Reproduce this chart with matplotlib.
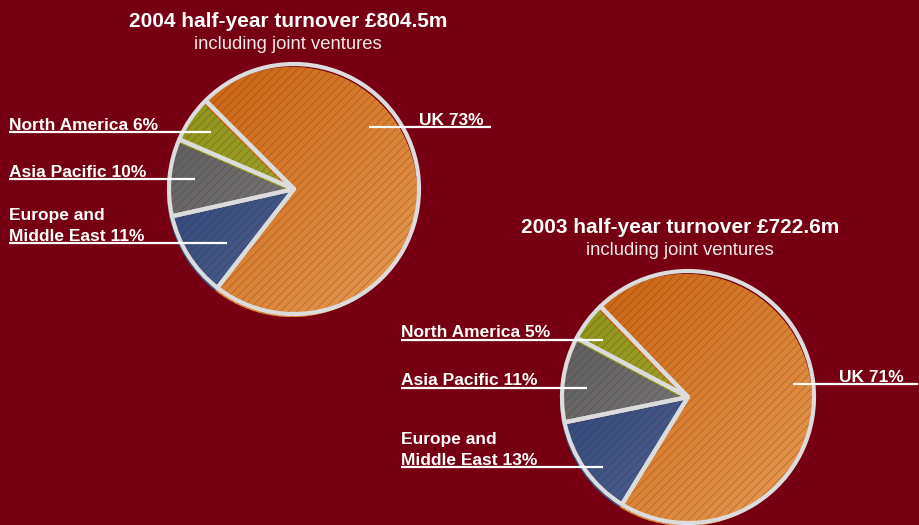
import numpy as np
import matplotlib
matplotlib.use("Agg")
import matplotlib.pyplot as plt
from matplotlib.colors import LinearSegmentedColormap

# ---- data -------------------------------------------------------------
regions = ["North America", "Asia Pacific", "Europe and\nMiddle East", "UK"]
share_2004 = [6, 10, 11, 73]
share_2003 = [5, 11, 13, 71]
years = [2004, 2003]
turnover_m = [804.5, 722.6]
subtitle = "including joint ventures"

# ---- styling ----------------------------------------------------------
BG = "#760011"
W, H = 920, 525
FONT = "Liberation Sans"
plt.rcParams["hatch.linewidth"] = 0.6
# (dark, light) gradient ends for each region's slice
shades = [("#8c9218", "#aeae3c"),
          ("#575757", "#909090"),
          ("#223a72", "#60739c"),
          ("#c85f0c", "#e89c55")]
OUTLINE = "#dcdcdc"

fig = plt.figure(figsize=(W / 100, H / 100), dpi=100, facecolor=BG)
ax = fig.add_axes([0, 0, 1, 1])
ax.set_facecolor(BG)


def sy(y_screen):
    """Convert a top-down pixel row into the axes' bottom-up y."""
    return H - y_screen


def draw_pie(shares, cx, cy_s, r, start):
    cy = sy(cy_s)
    fill_center = (cx - 2, cy - 3)
    base, _ = ax.pie(shares, radius=r, center=fill_center, startangle=start,
                     colors=[s[0] for s in shades],
                     wedgeprops=dict(linewidth=0), frame=False)
    n = 200
    gx, gy = np.meshgrid(np.linspace(0, 1, n), np.linspace(0, 1, n))
    grad = (gx + (1 - gy)) / 2
    for wedge, (dark, light) in zip(base, shades):
        cmap = LinearSegmentedColormap.from_list("g", [dark, light])
        im = ax.imshow(grad, extent=(fill_center[0] - r, fill_center[0] + r,
                                     fill_center[1] - r, fill_center[1] + r),
                       origin="lower", cmap=cmap, vmin=0, vmax=1,
                       interpolation="bilinear", zorder=1.5)
        im.set_clip_path(wedge)
    hatch, _ = ax.pie(shares, radius=r, center=fill_center, startangle=start,
                      colors=["none"] * len(shares),
                      wedgeprops=dict(linewidth=0, edgecolor=(0.3, 0.12, 0.05, 0.3),
                                      hatch="////"), frame=False)
    for w in hatch:
        w.set_zorder(2)
    outline, _ = ax.pie(shares, radius=r, center=(cx, cy), startangle=start,
                        colors=["none"] * len(shares),
                        wedgeprops=dict(linewidth=3.0, edgecolor=OUTLINE,
                                        joinstyle="round"), frame=False)
    for w in outline:
        w.set_zorder(3)


def draw_title(year, value, cx, base_title, base_sub):
    ax.text(cx, sy(base_title), f"{year} half-year turnover £{value:.1f}m",
            ha="center", va="baseline", color="white", fontsize=15,
            fontweight="bold", family=FONT, zorder=5)
    ax.text(cx, sy(base_sub), subtitle, ha="center", va="baseline",
            color="#f2e8e8", fontsize=13.3, family=FONT, zorder=5)


def draw_labels(shares, layout):
    for region, share, (tx, base, ly, x0, x1) in zip(regions, shares, layout):
        lines = f"{region} {share}%".split("\n")
        for k, line in enumerate(reversed(lines)):
            ax.text(tx, sy(base - 21 * k), line, ha="left", va="baseline",
                    color="white", fontsize=12.5, fontweight="bold",
                    family=FONT, zorder=5)
        ax.plot([x0, x1], [sy(ly), sy(ly)], color="white", lw=1.6,
                solid_capstyle="butt", zorder=4)


# 2004 pie (upper left)
draw_pie(share_2004, 294, 189, 125, 135)
draw_title(years[0], turnover_m[0], 288, 27, 49)
draw_labels(share_2004, [
    (9, 130, 132, 9, 211),
    (9, 177, 179, 9, 195),
    (9, 241, 243, 9, 227),
    (419, 125, 127, 369, 491),
])

# 2003 pie (lower right)
draw_pie(share_2003, 688, 397, 126, 134)
draw_title(years[1], turnover_m[1], 680, 233, 255)
draw_labels(share_2003, [
    (401, 337, 340, 401, 603),
    (401, 385, 388, 401, 587),
    (401, 465, 467, 401, 603),
    (839, 382, 384, 793, 918),
])

ax.set_xlim(0, W)
ax.set_ylim(0, H)
ax.set_aspect("equal")
ax.axis("off")

fig.savefig("out.png", dpi=100, facecolor=BG)
